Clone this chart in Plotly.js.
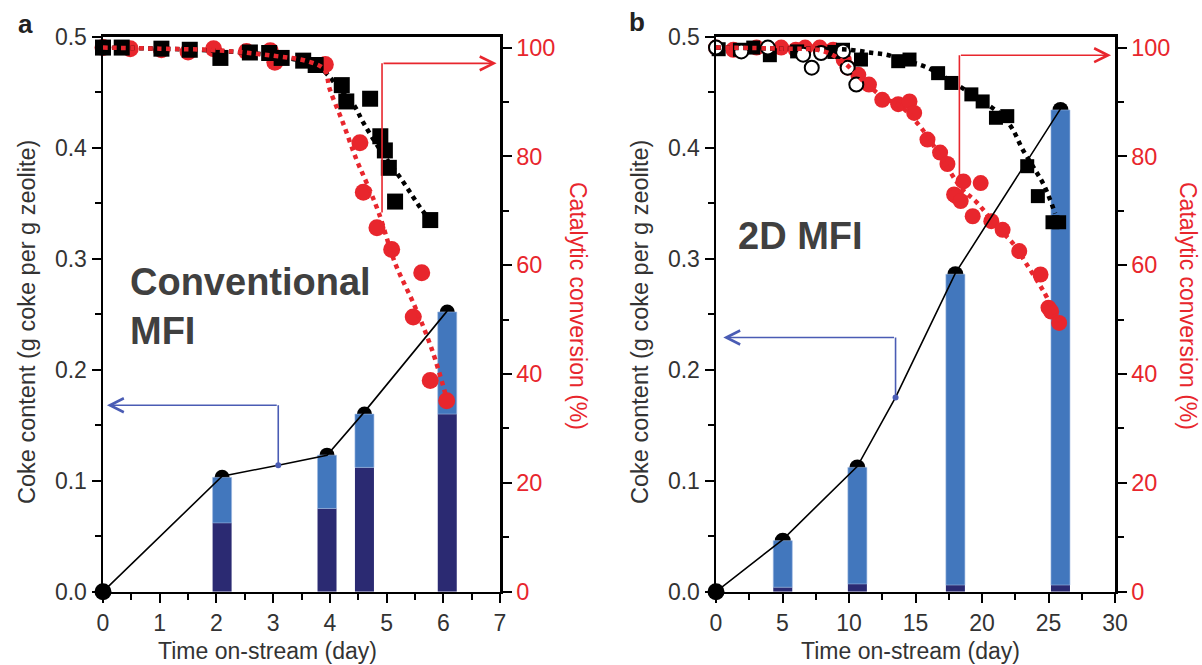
<!DOCTYPE html>
<html>
<head>
<meta charset="utf-8">
<script src="https://cdn.plot.ly/plotly-3.0.1.min.js"></script>
<style>html,body{margin:0;padding:0;background:#fff;}#chart{width:1202px;height:665px;}</style>
</head>
<body>
<div id="chart"></div>
<script>
// ---------- Panel a : Conventional MFI ----------
const a_barDays   = [2.1, 3.95, 4.61, 6.07];
const a_cokeTotal = [0.103, 0.123, 0.160, 0.252];
const a_cokeHard  = [0.062, 0.075, 0.112, 0.160];
const a_lineDays  = [0, 2.1, 3.09, 3.95, 4.61, 6.07];
const a_lineCoke  = [0, 0.104, 0.114, 0.123, 0.162, 0.253];
const a_redDays   = [0, 0.48, 1.03, 1.5, 1.95, 2.53, 2.95, 3.03, 3.92, 4.53, 4.59, 4.83, 5.09, 5.47, 5.62, 5.77, 6.06];
const a_redConv   = [100, 99.8, 99.6, 99.2, 99.8, 99.3, 99.4, 97.3, 96.9, 82.5, 73.4, 66.9, 62.9, 50.5, 58.6, 38.8, 35.1];
const a_sqDays    = [0, 0.33, 1.03, 1.53, 2.07, 2.59, 2.93, 3.15, 3.53, 3.75, 4.21, 4.29, 4.71, 4.89, 4.97, 5.04, 5.15, 5.77];
const a_sqConv    = [100, 100, 99.8, 99.6, 98.1, 99.1, 99.0, 98.1, 97.6, 96.8, 93.1, 90.1, 90.6, 83.7, 81.1, 77.9, 71.7, 68.3];
const a_redTrendD = [0, 1, 2, 3, 3.6, 3.9, 4.0, 4.23, 4.47, 4.65, 4.86, 5.15, 5.5, 5.8, 6.06];
const a_redTrendC = [100, 99.8, 99.5, 98.5, 97.5, 96, 92.3, 86.2, 79.4, 75.1, 69.7, 60.4, 52.4, 44.5, 35.5];
const a_blkTrendD = [0, 1, 2, 3, 3.8, 4.2, 4.42, 4.59, 4.9, 5.3, 5.6, 5.77];
const a_blkTrendC = [100, 99.8, 99.4, 98.5, 96.4, 92, 89.5, 86.2, 81, 75.2, 70.5, 68.3];
const a_blueArrowD = [3.09, 3.09, 0.07];
const a_blueArrowC = [0.114, 0.168, 0.168];
const a_redArrowD  = [4.92, 4.92, 6.94];
const a_redArrowC  = [69.7, 97.1, 97.1];

// ---------- Panel b : 2D MFI ----------
const b_barDays   = [5.02, 10.63, 18.0, 25.9];
const b_cokeTotal = [0.046, 0.112, 0.286, 0.434];
const b_cokeHard  = [0.004, 0.007, 0.006, 0.006];
const b_lineDays  = [0, 5.02, 10.63, 13.5, 18.0, 25.9];
const b_lineCoke  = [0, 0.047, 0.113, 0.175, 0.287, 0.435];
const b_redDays   = [0, 1.3, 3.05, 4.9, 6.0, 6.7, 7.8, 8.8, 9.6, 9.9, 10.7, 11.5, 12.5, 13.7, 14.55, 14.9, 15.9, 16.85, 17.4, 17.9, 18.05, 18.4, 18.6, 19.3, 19.9, 20.7, 21.55, 22.8, 24.4, 25.0, 25.2, 25.8];
const b_redConv   = [100, 99.6, 100, 100, 99.6, 100, 100, 99.6, 97.8, 96.3, 95.0, 93.2, 90.4, 89.6, 90.1, 88.0, 83.1, 80.7, 78.6, 73.0, 72.7, 71.8, 75.4, 69.0, 75.1, 68.1, 66.5, 62.6, 58.3, 52.2, 51.5, 49.4];
const b_sqDays    = [0.2, 1.8, 2.8, 4.05, 6.1, 8.9, 9.55, 10.9, 13.7, 14.55, 16.7, 17.7, 19.2, 20.05, 21.05, 21.9, 23.4, 24.2, 25.3, 25.8];
const b_sqConv    = [99.7, 99.6, 100, 98.6, 99.3, 99.2, 99.6, 97.8, 97.5, 97.8, 95.3, 93.5, 91.4, 90.1, 87.1, 87.4, 78.2, 72.7, 67.9, 67.9];
const b_openDays  = [0, 1.9, 3.9, 6.55, 7.2, 7.9, 9.55, 9.9, 10.55];
const b_openConv  = [100, 99.3, 100, 98.7, 96.3, 99, 99.3, 96.3, 93.2];
const b_redTrendD = [0, 5, 8, 9.5, 11, 12.5, 14, 15.5, 17, 18.5, 19.55, 21, 22.5, 23.3, 24.7, 25.5, 26];
const b_redTrendC = [100, 99.8, 99.4, 97.5, 94, 91, 89, 85, 79.5, 74, 71.7, 67.5, 63.5, 60.4, 54.9, 51, 49];
const b_blkTrendD = [0, 5, 10, 11.8, 12.8, 14, 15.9, 18.3, 20, 21.5, 22.3, 23.05, 24, 24.7, 25.5];
const b_blkTrendC = [100, 99.8, 99.6, 99, 98.7, 97.8, 96.3, 92.9, 90.2, 87.5, 85, 81.3, 77.5, 74.5, 69.5];
const b_blueArrowD = [13.5, 13.5, 0.55];
const b_blueArrowC = [0.175, 0.229, 0.229];
const b_redArrowD  = [18.3, 18.3, 29.7];
const b_redArrowC  = [75.7, 98.6, 98.6];

const xTitle = "Time on-stream (day)";
const yLeftTitle = "Coke content (g coke per g zeolite)";
const yRightTitle = "Catalytic conversion (%)";

// ---------- styles ----------
const RED = "#e8262d", LIGHT = "#4277bd", DARK = "#2b2a72", BLUE = "#4a5cb4", TXT = "#333333";
const FONT = "Arial, 'Liberation Sans', sans-serif";
const W = 1202, H = 665;
const px = v => v / W, py = v => 1 - v / H;

function panel(p, xa, yMain, yBar, yConv, yLine, barW, mk) {
  const xr = xa;
  const tr = [];
  tr.push({type:"scatter", mode:"markers", x:p.barDays, y:p.cokeTotal, xaxis:xr, yaxis:yMain,
    marker:{color:"#000", size:mk.cap}, cliponaxis:false, hoverinfo:"skip"});
  tr.push({type:"bar", x:p.barDays, y:p.cokeHard, base:0, width:barW, xaxis:xr, yaxis:yBar,
    marker:{color:DARK, line:{width:0}}});
  tr.push({type:"bar", x:p.barDays, y:p.cokeTotal.map((t,i)=>t - p.cokeHard[i]), base:p.cokeHard,
    width:barW, xaxis:xr, yaxis:yBar, marker:{color:LIGHT, line:{color:"#9db8e0", width:0.6}}});
  tr.push({type:"scatter", mode:"markers", x:p.redDays, y:p.redConv, xaxis:xr, yaxis:yConv,
    marker:{color:RED, size:mk.red, symbol:"circle"}, cliponaxis:false});
  tr.push({type:"scatter", mode:"markers", x:p.sqDays, y:p.sqConv, xaxis:xr, yaxis:yConv,
    marker:{color:"#000", size:mk.sq, symbol:"square"}, cliponaxis:false});
  if (p.openDays) tr.push({type:"scatter", mode:"markers", x:p.openDays, y:p.openConv, xaxis:xr, yaxis:yConv,
    marker:{color:"#fff", size:mk.open, symbol:"circle", line:{color:"#000", width:2}}, cliponaxis:false});
  tr.push({type:"scatter", mode:"lines", x:p.blkTrendD, y:p.blkTrendC, xaxis:xr, yaxis:yConv,
    line:{color:"#000", width:4.5, dash:"dot", shape:"spline"}});
  tr.push({type:"scatter", mode:"lines", x:p.redTrendD, y:p.redTrendC, xaxis:xr, yaxis:yConv,
    line:{color:RED, width:4.5, dash:"dot", shape:"spline"}});
  tr.push({type:"scatter", mode:"lines", x:p.redArrowD.slice(0,2), y:p.redArrowC.slice(0,2), xaxis:xr, yaxis:yConv,
    line:{color:RED, width:1.6}});
  tr.push({type:"scatter", mode:"lines", x:p.lineDays, y:p.lineCoke, xaxis:xr, yaxis:yLine,
    line:{color:"#000", width:1.6}});
  tr.push({type:"scatter", mode:"lines", x:p.blueArrowD.slice(0,2), y:p.blueArrowC.slice(0,2), xaxis:xr, yaxis:yLine,
    line:{color:BLUE, width:1.6}});
  tr.push({type:"scatter", mode:"markers", x:[p.blueArrowD[0]], y:[p.blueArrowC[0]], xaxis:xr, yaxis:yLine,
    marker:{color:BLUE, size:6}});
  tr.push({type:"scatter", mode:"markers", x:[p.lineDays[0]], y:[p.lineCoke[0]], xaxis:xr, yaxis:yLine,
    marker:{color:"#000", size:17}, cliponaxis:false});
  return tr;
}

const A = {barDays:a_barDays, cokeTotal:a_cokeTotal, cokeHard:a_cokeHard, lineDays:a_lineDays, lineCoke:a_lineCoke,
  redDays:a_redDays, redConv:a_redConv, sqDays:a_sqDays, sqConv:a_sqConv, redTrendD:a_redTrendD, redTrendC:a_redTrendC,
  blkTrendD:a_blkTrendD, blkTrendC:a_blkTrendC, blueArrowD:a_blueArrowD, blueArrowC:a_blueArrowC,
  redArrowD:a_redArrowD, redArrowC:a_redArrowC};
const B = {barDays:b_barDays, cokeTotal:b_cokeTotal, cokeHard:b_cokeHard, lineDays:b_lineDays, lineCoke:b_lineCoke,
  redDays:b_redDays, redConv:b_redConv, sqDays:b_sqDays, sqConv:b_sqConv, openDays:b_openDays, openConv:b_openConv,
  redTrendD:b_redTrendD, redTrendC:b_redTrendC, blkTrendD:b_blkTrendD, blkTrendC:b_blkTrendC,
  blueArrowD:b_blueArrowD, blueArrowC:b_blueArrowC, redArrowD:b_redArrowD, redArrowC:b_redArrowC};

const data = [].concat(
  panel(A, "x", "y", "y2", "y3", "y4", 0.335, {cap:15, red:17, sq:16, open:14}),
  panel(B, "x2", "y5", "y6", "y7", "y8", 1.43, {cap:16, red:16, sq:14, open:14})
);

const yDom = [py(591.7), py(36.7)];
const tickF = {family:FONT, size:23, color:TXT};
const redTickF = {family:FONT, size:23.5, color:RED};
function xAxis(dom, range, dtick, minor) {
  return {domain:dom, range:range, dtick:dtick, tick0:0, showgrid:false, zeroline:false,
    showline:true, linecolor:"#000", linewidth:2.5, mirror:true,
    ticks:"outside", ticklen:9, tickwidth:2, tickcolor:"#000", tickfont:tickF,
    minor:{dtick:minor, tick0:0, ticks:"outside", ticklen:6, tickwidth:2, tickcolor:"#000"}, fixedrange:true};
}
function yLeft(anchor) {
  return {domain:yDom, anchor:anchor, range:[0,0.5], dtick:0.1, tick0:0, tickformat:".1f",
    showgrid:false, zeroline:false, showline:true, linecolor:"#000", linewidth:2.5,
    ticks:"outside", ticklen:9, tickwidth:2, tickcolor:"#000", tickfont:tickF,
    minor:{dtick:0.05, tick0:0, ticks:"outside", ticklen:6, tickwidth:2, tickcolor:"#000"}};
}
function yHidden(over, anchor) {
  return {overlaying:over, anchor:anchor, range:[0,0.5], visible:false, showgrid:false, zeroline:false};
}
function yRight(over, anchor) {
  return {overlaying:over, anchor:anchor, side:"right", range:[0,102], dtick:20, tick0:0,
    showgrid:false, zeroline:false, showline:true, linecolor:"#000", linewidth:2.5,
    ticks:"outside", ticklen:9, tickwidth:2, tickcolor:"#000", tickfont:redTickF,
    minor:{dtick:10, tick0:0, ticks:"outside", ticklen:6, tickwidth:2, tickcolor:"#000"}};
}

function ann(text, x, y, opts) {
  return Object.assign({text:text, x:px(x), y:py(y), xref:"paper", yref:"paper", showarrow:false,
    xanchor:"center", yanchor:"middle", font:{family:FONT, size:23, color:TXT}}, opts || {});
}
function arrow(xr, yr, tipX, tipY, tailX, tailY, color) {
  return {x:tipX, y:tipY, ax:tailX, ay:tailY, xref:xr, yref:yr, axref:xr, ayref:yr, text:" ",
    showarrow:true, arrowhead:5, arrowsize:1.7, arrowwidth:1.6, arrowcolor:color, standoff:0, startstandoff:0,
    font:{size:1}};
}

const layout = {
  width:W, height:H, margin:{l:0, r:0, t:0, b:0}, paper_bgcolor:"#fff", plot_bgcolor:"rgba(0,0,0,0)",
  showlegend:false, barmode:"overlay", font:{family:FONT},
  xaxis: xAxis([px(103), px(500)], [0,7], 1, 0.5),
  xaxis2: Object.assign(xAxis([px(716), px(1115)], [0,30], 5, 2.5), {anchor:"y5"}),
  yaxis: yLeft("x"),
  yaxis2: yHidden("y", "x"),
  yaxis3: yRight("y", "x"),
  yaxis4: yHidden("y", "x"),
  yaxis5: yLeft("x2"),
  yaxis6: yHidden("y5", "x2"),
  yaxis7: yRight("y5", "x2"),
  yaxis8: yHidden("y5", "x2"),
  annotations: [
    ann("<b>a</b>", 25, 24, {font:{family:FONT, size:26, color:"#222"}}),
    ann("<b>b</b>", 637, 22, {font:{family:FONT, size:26, color:"#222"}}),
    ann("<b>Conventional</b>", 128, 282, {xanchor:"left", font:{family:FONT, size:38, color:"#404040"}}),
    ann("<b>MFI</b>", 128, 331, {xanchor:"left", font:{family:FONT, size:38, color:"#404040"}}),
    ann("<b>2D MFI</b>", 736, 236, {xanchor:"left", font:{family:FONT, size:38, color:"#404040"}}),
    ann(yLeftTitle, 27, 322, {textangle:-90, font:{family:FONT, size:23.5, color:TXT}}),
    ann(yLeftTitle, 640, 322, {textangle:-90, font:{family:FONT, size:23.5, color:TXT}}),
    ann(yRightTitle, 578, 306, {textangle:90, font:{family:FONT, size:23, color:RED}}),
    ann(yRightTitle, 1188, 306, {textangle:90, font:{family:FONT, size:23, color:RED}}),
    ann(xTitle, 267, 651),
    ann(xTitle, 910, 651),
    arrow("x", "y4", a_blueArrowD[2], a_blueArrowC[2], a_blueArrowD[1], a_blueArrowC[1], BLUE),
    arrow("x", "y3", a_redArrowD[2], a_redArrowC[2], a_redArrowD[1], a_redArrowC[1], RED),
    arrow("x2", "y8", b_blueArrowD[2], b_blueArrowC[2], b_blueArrowD[1], b_blueArrowC[1], BLUE),
    arrow("x2", "y7", b_redArrowD[2], b_redArrowC[2], b_redArrowD[1], b_redArrowC[1], RED)
  ]
};

Plotly.newPlot("chart", data, layout, {staticPlot:true, displayModeBar:false});
</script>
</body>
</html>
